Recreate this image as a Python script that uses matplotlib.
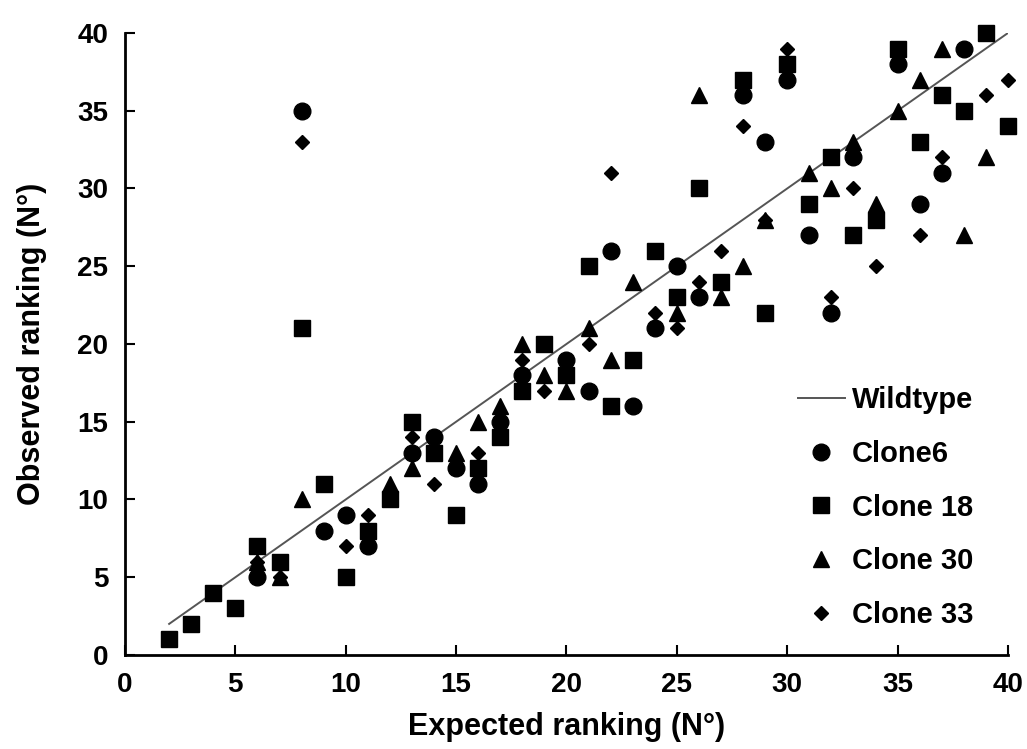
import matplotlib
matplotlib.use("Agg")
import matplotlib.pyplot as plt

plt.rcParams['font.family'] = ['Liberation Sans', 'DejaVu Sans']
plt.rcParams['font.weight'] = 'bold'

# Wildtype reference line (expected = observed)
wt_x = [2, 40]
wt_y = [2, 40]

# Clone6 (circles)
c6_x = [6, 8, 9, 10, 11, 13, 14, 15, 16, 17, 18, 20, 21, 22, 23, 24, 25, 26, 28, 29, 30, 31, 32, 33, 35, 36, 37, 38]
c6_y = [5, 35, 8, 9, 7, 13, 14, 12, 11, 15, 18, 19, 17, 26, 16, 21, 25, 23, 36, 33, 37, 27, 22, 32, 38, 29, 31, 39]

# Clone 18 (squares)
c18_x = [2, 3, 4, 5, 6, 7, 8, 9, 10, 11, 12, 13, 14, 15, 16, 17, 18, 19, 20, 21, 22, 23, 24, 25, 26, 27, 28, 29, 30, 31, 32, 33, 34, 35, 36, 37, 38, 39, 40]
c18_y = [1, 2, 4, 3, 7, 6, 21, 11, 5, 8, 10, 15, 13, 9, 12, 14, 17, 20, 18, 25, 16, 19, 26, 23, 30, 24, 37, 22, 38, 29, 32, 27, 28, 39, 33, 36, 35, 40, 34]

# Clone 30 (triangles)
c30_x = [6, 7, 8, 12, 13, 15, 16, 17, 18, 19, 20, 21, 22, 23, 25, 26, 27, 28, 29, 31, 32, 33, 34, 35, 36, 37, 38, 39]
c30_y = [6, 5, 10, 11, 12, 13, 15, 16, 20, 18, 17, 21, 19, 24, 22, 36, 23, 25, 28, 31, 30, 33, 29, 35, 37, 39, 27, 32]

# Clone 33 (diamonds)
c33_x = [6, 7, 8, 10, 11, 13, 14, 16, 17, 18, 19, 21, 22, 24, 25, 26, 27, 28, 29, 30, 32, 33, 34, 36, 37, 39, 40]
c33_y = [6, 5, 33, 7, 9, 14, 11, 13, 15, 19, 17, 20, 31, 22, 21, 24, 26, 34, 28, 39, 23, 30, 25, 27, 32, 36, 37]

fig = plt.figure(figsize=(10.27, 7.49), dpi=100)
ax = fig.add_axes([0.1217, 0.1255, 0.8598, 0.8305])

ax.plot(wt_x, wt_y, color='#555555', lw=1.4, label='Wildtype', zorder=1)
ax.plot(c6_x, c6_y, 'o', color='black', ms=12, ls='none', label='Clone6', zorder=3, clip_on=False)
ax.plot(c18_x, c18_y, 's', color='black', ms=12, ls='none', label='Clone 18', zorder=2, clip_on=False)
ax.plot(c30_x, c30_y, '^', color='black', ms=11, ls='none', label='Clone 30', zorder=3, clip_on=False)
ax.plot(c33_x, c33_y, 'D', color='black', ms=7.5, ls='none', label='Clone 33', zorder=3, clip_on=False)

ax.set_xlim(0, 40)
ax.set_ylim(0, 40)
ax.set_xticks(range(0, 41, 5))
ax.set_yticks(range(0, 41, 5))
ax.tick_params(direction='in', length=7, width=1.5, labelsize=20, pad=12)
for lab in ax.get_xticklabels() + ax.get_yticklabels():
    lab.set_fontweight('bold')

for s in ['top', 'right']:
    ax.spines[s].set_visible(False)
for s in ['left', 'bottom']:
    ax.spines[s].set_linewidth(2)

ax.set_xlabel('Expected ranking (N°)', fontsize=22, fontweight='bold', labelpad=10)
ax.set_ylabel('Observed ranking (N°)', fontsize=22, fontweight='bold', labelpad=22)

ax.legend(loc='lower left', bbox_to_anchor=(0.762, 0.042), frameon=False,
          prop={'size': 21, 'weight': 'bold'}, labelspacing=0.88,
          handlelength=1.6, handletextpad=0.25, borderaxespad=0, borderpad=0)

fig.savefig('out.png', dpi=100)
